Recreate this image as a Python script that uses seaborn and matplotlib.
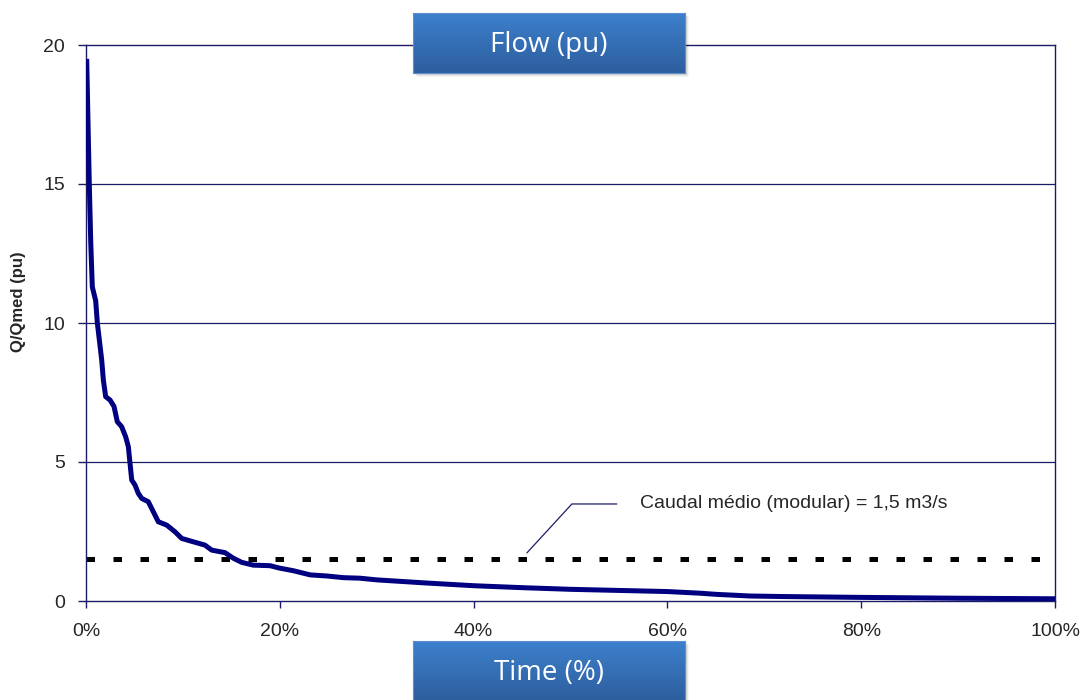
import matplotlib
matplotlib.use("Agg")
import matplotlib.pyplot as plt
import numpy as np
import pandas as pd
import seaborn as sns
from matplotlib.patches import Rectangle

# Flow duration curve: share of time (%) vs normalised flow Q/Qmed
time_pct = [0.07, 0.34, 0.49, 0.65, 1.00, 1.17, 1.62, 1.79, 2.03, 2.48, 2.89,
            3.23, 3.68, 4.10, 4.37, 4.54, 4.72, 5.06, 5.40, 5.75, 6.43, 6.95,
            7.46, 8.33, 9.18, 9.88, 11.07, 12.28, 12.97, 14.34, 15.20, 16.07,
            17.26, 18.99, 20.02, 21.39, 23.12, 24.84, 26.55, 28.28, 30.0, 35.0,
            40.0, 45.0, 50.0, 55.0, 60.0, 63.4, 65.0, 68.5, 72.0, 80.0, 90.0,
            100.0]
flow_pu = [19.5, 15.0, 12.9, 11.3, 10.8, 10.0, 8.67, 7.95, 7.35, 7.23, 7.0,
           6.45, 6.27, 5.9, 5.55, 4.96, 4.35, 4.17, 3.87, 3.69, 3.57, 3.21,
           2.85, 2.73, 2.49, 2.25, 2.13, 2.01, 1.83, 1.74, 1.54, 1.39,
           1.29, 1.27, 1.18, 1.09, 0.94, 0.90, 0.84, 0.82, 0.76, 0.65,
           0.55, 0.48, 0.42, 0.38, 0.34, 0.28, 0.24, 0.18, 0.16, 0.13, 0.10,
           0.08]

mean_flow = 1.5
mean_label = "Caudal médio (modular) = 1,5 m3/s"
x_ticks = [0, 20, 40, 60, 80, 100]
x_tick_labels = ["0%", "20%", "40%", "60%", "80%", "100%"]
y_ticks = [0, 5, 10, 15, 20]
title_text = "Flow (pu)"
xlabel_text = "Time (%)"
ylabel_text = "Q/Qmed (pu)"

sns.set_style("white")
plt.rcParams["font.family"] = ["Liberation Sans", "DejaVu Sans"]

W, H = 1088, 700
fig = plt.figure(figsize=(W / 100, H / 100), dpi=100)
ax = fig.add_axes([86 / W, 1 - 601 / H, (1055 - 86) / W, (601 - 45) / H])

navy = "#000080"
frame = "#1c1c66"

df = pd.DataFrame({"time": time_pct, "flow": flow_pu})
sns.lineplot(data=df, x="time", y="flow", ax=ax, color=navy, lw=3.6,
             solid_capstyle="butt", solid_joinstyle="round", zorder=3)

mean_df = pd.DataFrame({"time": [0, 100], "flow": [mean_flow, mean_flow]})
sns.lineplot(data=mean_df, x="time", y="flow", ax=ax, color="black", lw=3.6,
             zorder=2)
ax.lines[-1].set_dashes([1.7, 3.7])
ax.lines[-1].set_dash_capstyle("butt")

ax.set_xlim(0, 100)
ax.set_ylim(0, 20)
ax.set_xticks(x_ticks)
ax.set_xticklabels(x_tick_labels)
ax.set_yticks(y_ticks)
ax.set_xlabel("")
ax.set_ylabel("")

for y in y_ticks[1:-1]:
    ax.axhline(y, color=frame, lw=0.9, zorder=1)

for side in ["left", "right", "top", "bottom"]:
    ax.spines[side].set_visible(True)
    ax.spines[side].set_color(frame)
    ax.spines[side].set_linewidth(1.0)

ax.tick_params(axis="x", direction="out", length=5, width=1.0, color=frame,
               pad=11, labelsize=14, bottom=True)
ax.tick_params(axis="y", direction="out", length=6, width=1.0, color=frame,
               pad=9, labelsize=14, left=True)

# Leader line and note for the mean flow
ax.annotate(mean_label, xy=(45.5, 1.73), xytext=(57.2, 3.49),
            textcoords="data", ha="left", va="center", fontsize=14,
            arrowprops=dict(arrowstyle="-", color=frame, lw=0.9,
                            relpos=(0, 0.5), shrinkA=14.5, shrinkB=0,
                            connectionstyle="angle,angleA=0,angleB=47.4"))

fig.text(19 / W, 1 - 302 / H, ylabel_text, rotation=90, ha="center",
         va="center", fontsize=12, fontweight="bold")


def label_box(x0, y0, w, h, text):
    # soft drop shadow
    for i, a in enumerate([0.10, 0.08, 0.06, 0.04]):
        off = 1 + i
        fig.patches.append(Rectangle(((x0 + off) / W, 1 - (y0 + h + off) / H),
                                     w / W, h / H, transform=fig.transFigure,
                                     facecolor="black", alpha=a, lw=0,
                                     zorder=5))
    bax = fig.add_axes([x0 / W, 1 - (y0 + h) / H, w / W, h / H], zorder=6)
    top = np.array([61, 128, 204]) / 255
    bot = np.array([45, 94, 158]) / 255
    t = np.linspace(0, 1, 64)[:, None, None]
    grad = top * (1 - t) + bot * t
    grad = np.repeat(grad, 2, axis=1)
    bax.imshow(grad, aspect="auto", extent=[0, 1, 0, 1], origin="upper")
    bax.set_xlim(0, 1)
    bax.set_ylim(0, 1)
    bax.set_xticks([])
    bax.set_yticks([])
    for s in bax.spines.values():
        s.set_color("#5b8fd0")
        s.set_linewidth(0.8)
    bax.text(0.5, 0.47, text, ha="center", va="center", color="white",
             fontsize=20, family=["Open Sans", "DejaVu Sans"])


label_box(413, 13, 272, 60, title_text)
label_box(413, 641, 272, 60, xlabel_text)

fig.savefig("out.png", dpi=100)
